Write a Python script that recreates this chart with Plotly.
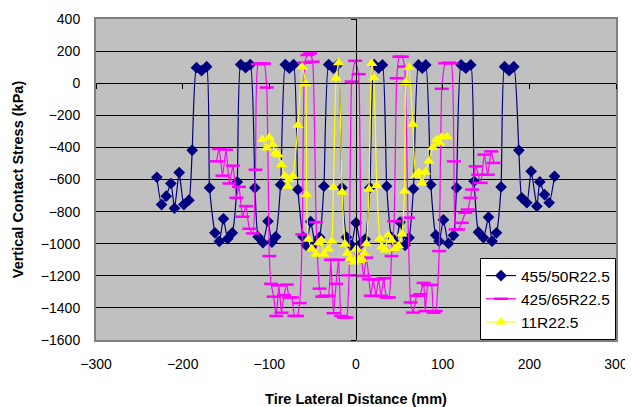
import plotly.graph_objects as go

# ---- data ----
navy_x = [-229.8, -224.4, -219, -213.6, -209.4, -204, -198.6, -192.8, -189, -184,
          -178.2, -172.4, -169, -162.8, -157.7, -153, -148, -142.7, -137, -133,
          -127.4, -122, -116.6, -113, -107.4, -101.6, -97, -92.7, -87, -81.5,
          -76.9, -72, -67, -61.2, -57.3, -52.3, -47, -42, -37, -31.5,
          -26, -21, -16.2, -11, -5.5, 0, 5.5, 10.5, 16, 21,
          26, 30.5, 35.4, 41, 46, 50.8, 56.6, 61.2, 66.3, 72,
          76.5, 80.5, 86.3, 92, 95.9, 100.9, 106.7, 112.5, 116, 121.3,
          126.7, 132.4, 136.3, 141.3, 147.1, 152.9, 157, 162.1, 167.4, 171.4,
          176.7, 182.1, 187.9, 191.3, 197.1, 202.1, 208.7, 212.1, 217.5, 222.9,
          229.1]
navy_y = [-586, -756, -704, -625, -779, -557, -756, -729, -418, 97,
          78, 103, -652, -932, -986, -845, -969, -932, -615, 116,
          97, 116, -652, -957, -994, -860, -990, -957, -632, 116,
          93, 116, -663, -957, -1011, -863, -998, -960, -642, 116,
          93, 116, -652, -960, -1009, -870, -1000, -973, -652, 116,
          93, 114, -642, -960, -998, -866, -1010, -963, -658, 114,
          93, 114, -632, -947, -984, -851, -998, -948, -652, 114,
          93, 114, -611, -928, -963, -835, -984, -932, -646, 103,
          78, 103, -418, -714, -745, -549, -766, -615, -694, -745,
          -580]

mag_x = [-161, -158, -154, -150, -146, -142, -138, -135, -131, -127,
         -123, -119, -116, -113, -109, -106, -103, -100, -98, -95,
         -92, -89, -86, -83, -80, -77, -74, -71, -68, -65,
         -62, -59, -56, -53, -50, -46, -42, -39, -36, -32,
         -29, -26, -23, -20, -17, -14, -11, -8, -5, -1,
         3, 6, 9, 12, 15, 17, 20, 23, 26, 29,
         32, 35, 38, 41, 44, 47, 50, 53, 56, 60,
         63, 66, 70, 74, 78, 80, 83, 87, 89.5, 92,
         96, 99, 103, 107, 110, 113, 115, 118, 122, 126,
         129, 132, 134, 138, 141, 144, 148, 152, 156, 159]
mag_y = [-487, -410, -576, -414, -625, -514, -714, -646, -832, -766,
         -907, -936, -539, 118, 124, 122, -27, -1077, -1250, -1330,
         -1450, -1260, -1430, -1320, -1255, -1335, -1335, -1450, -1450, -1370,
         -942, 128, 176, 186, 134, -866, -1280, -1330, -1325, -1325,
         -1100, -1433, -1250, -1100, -1450, -1460, -1460, -1197, 10, 140,
         56, -1066, -1200, -1087, -1222, -1325, -1222, -1325, -1222, -1325,
         -1215, -1335, -1335, -1077, -860, 31, 165, 165, 103, -838,
         -1366, -1429, -1325, -1315, -1244, -1420, -1257, -1257, -1430, -1420,
         -1046, -35, 124, 128, 124, -487, -911, -911, -870, -807,
         -787, -714, -663, -518, -570, -621, -445, -570, -425, -497]

yel_x = [-108, -103, -100, -96, -93, -90, -86, -82, -79, -77,
         -73, -67, -62, -58, -57, -55, -51, -46, -43, -40,
         -37, -32, -28, -26, -23, -20, -16, -12.5, -10, -7,
         -3, 0.5, 4, 7, 9.5, 12, 15, 18, 20.5, 24,
         27.5, 30, 33.5, 37, 41, 45, 49, 53, 56, 57.5,
         61, 65.5, 69, 72.5, 76, 80, 84, 88.5, 93, 96.5,
         99, 105]
yel_y = [-350, -404, -338, -383, -435, -446, -508, -576, -642, -600,
         -580, -262, 101, -4, -694, -973, -1031, -1066, -994, -978,
         -1066, -1033, -984, -650, 31, 128, -680, -1004, -1060, -1094,
         -1114, -1031, -1104, -1097, -1060, -1000, -660, 122, 34, -638,
         -969, -1020, -1040, -948, -978, -1030, -1012, -939, -673, 4,
         100, -256, -573, -555, -624, -554, -487, -400, -350, -373,
         -334, -334]

series_names = ["455/50R22.5", "425/65R22.5", "11R22.5"]
x_ticks = [-300, -200, -100, 0, 100, 200, 300]
y_ticks = list(range(-1600, 401, 200))

FONT = "Liberation Sans, Arial, sans-serif"

fig = go.Figure()
fig.add_trace(go.Scatter(
    x=navy_x, y=navy_y, name=series_names[0], mode="lines+markers",
    line=dict(color="#000080", width=1.2, shape="spline", smoothing=0.5),
    marker=dict(symbol="diamond", size=9, color="#000080")))
fig.add_trace(go.Scatter(
    x=mag_x, y=mag_y, name=series_names[1], mode="lines+markers",
    line=dict(color="#FF00FF", width=1.2, shape="spline", smoothing=0.5),
    marker=dict(symbol="line-ew", size=10, color="#FF00FF",
                line=dict(color="#FF00FF", width=2.5))))
fig.add_trace(go.Scatter(
    x=yel_x, y=yel_y, name=series_names[2], mode="lines+markers",
    line=dict(color="#FFFF00", width=1.2, shape="spline", smoothing=0.5),
    marker=dict(symbol="triangle-up", size=10, color="#FFFF00")))
# carrier for the axes that cross at zero
fig.add_trace(go.Scatter(x=[None], y=[None], xaxis="x2", yaxis="y2",
                         showlegend=False, hoverinfo="skip"))

# page body has an 8px default margin, so the figure is 8px smaller
fig.update_layout(
    width=625, height=399,
    margin=dict(l=88, r=17, t=11, b=67),
    paper_bgcolor="white", plot_bgcolor="#C0C0C0",
    font=dict(family=FONT, size=14, color="black"),
    showlegend=True,
    legend=dict(x=1, xanchor="right", y=0, yanchor="bottom",
                bgcolor="white", bordercolor="black", borderwidth=1,
                font=dict(family=FONT, size=15.5, color="black"),
                itemwidth=30),
    xaxis=dict(range=[-300, 300], tickvals=x_ticks, showgrid=False,
               zeroline=False, showline=True, linecolor="#808080",
               linewidth=2, mirror=True, ticks="outside", ticklen=10,
               tickcolor="rgba(0,0,0,0)", automargin=False,
               tickfont=dict(size=14),
               title=dict(text="<b>Tire Lateral Distance (mm)</b>",
                          font=dict(size=14.5), standoff=27)),
    yaxis=dict(range=[-1600, 400], tickvals=y_ticks, showgrid=True,
               gridcolor="black", gridwidth=1, zeroline=False,
               showline=True, linecolor="#808080", linewidth=2, mirror=True,
               ticks="outside", ticklen=11, tickcolor="rgba(0,0,0,0)",
               automargin=False, tickfont=dict(size=14),
               title=dict(text="<b>Vertical Contact Stress (kPa)</b>",
                          font=dict(size=14.5), standoff=14)),
    xaxis2=dict(range=[-300, 300], overlaying="x", anchor="free",
                position=0.8, tickvals=x_ticks, showticklabels=False,
                showgrid=False, zeroline=False, showline=True,
                linecolor="black", linewidth=1, ticks="outside", ticklen=5,
                tickcolor="black", automargin=False),
    yaxis2=dict(range=[-1600, 400], overlaying="y", anchor="free",
                position=0.5, side="left", tickvals=y_ticks,
                showticklabels=False, showgrid=False, zeroline=False,
                showline=True, linecolor="black", linewidth=1,
                ticks="outside", ticklen=5, tickcolor="black",
                automargin=False),
)

fig.write_html("out.html")
